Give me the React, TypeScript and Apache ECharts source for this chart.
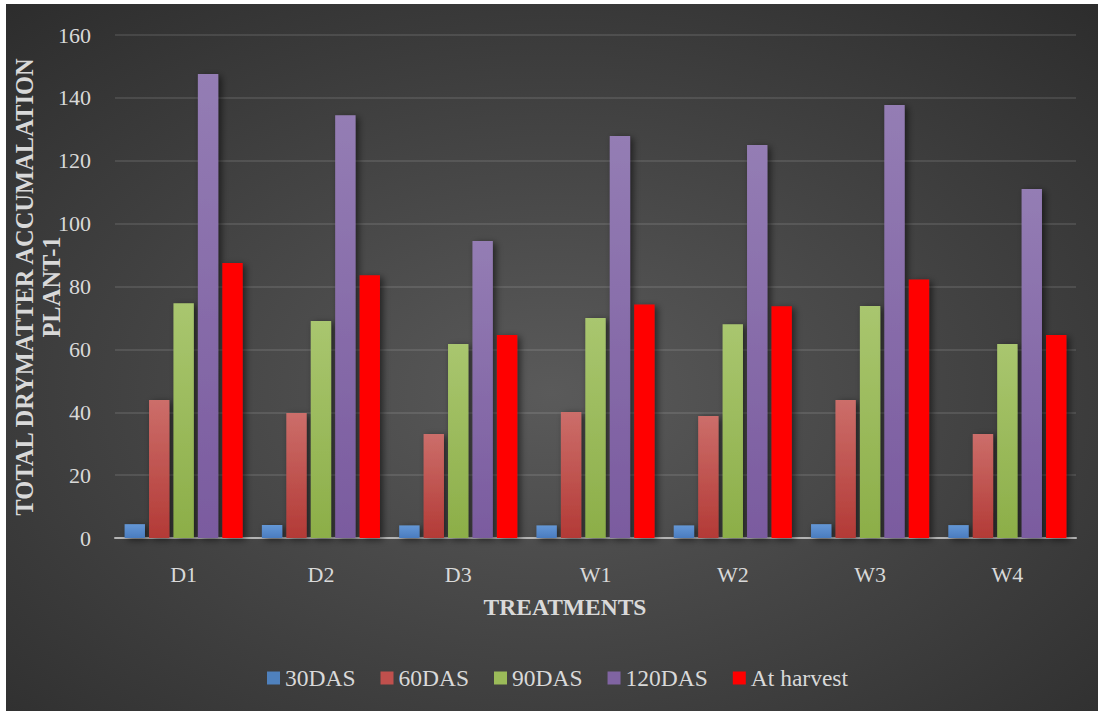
import React, { useEffect, useRef } from "react";
import * as echarts from "echarts";

const categories = ["D1", "D2", "D3", "W1", "W2", "W3", "W4"];
const seriesNames = ["30DAS", "60DAS", "90DAS", "120DAS", "At harvest"];
const das30 = [4.4, 4.1, 4.0, 4.0, 4.0, 4.4, 4.1];
const das60 = [43.9, 39.8, 33.1, 40.1, 38.8, 43.9, 33.1];
const das90 = [74.7, 69.0, 61.7, 70.0, 68.0, 73.8, 61.7];
const das120 = [147.6, 134.5, 94.5, 127.9, 125.0, 137.7, 111.0];
const atHarvest = [87.5, 83.6, 64.6, 74.3, 73.7, 82.2, 64.6];

const yTitleLine1 = "TOTAL DRYMATTER ACCUMALATION";
const yTitleLine2 = "PLANT-1";
const xTitle = "TREATMENTS";

const FONT = '"Liberation Serif", "Times New Roman", serif';

const grad = (top: string, bottom: string) =>
  new echarts.graphic.LinearGradient(0, 0, 0, 1, [
    { offset: 0, color: top },
    { offset: 1, color: bottom },
  ]);

export default function App() {
  const ref = useRef<HTMLDivElement>(null);
  useEffect(() => {
    if (!ref.current) return;
    const chart = echarts.init(ref.current, undefined, { renderer: "svg" });
    const dataSets = [das30, das60, das90, das120, atHarvest];
    const fills = [
      grad("#6497d6", "#4a7cbf"),
      grad("#cc6e6a", "#b33a36"),
      grad("#a9c66f", "#8cae48"),
      grad("#947db4", "#7a5b9f"),
      "#ff0000",
    ];
    const legendColors = ["#4f81bd", "#c0504d", "#9bbb59", "#8064a2", "#ff0000"];
    chart.setOption({
      animation: false,
      backgroundColor: new echarts.graphic.RadialGradient(0.5, 0.55, 0.85, [
        { offset: 0, color: "#5a5a5a" },
        { offset: 1, color: "#262626" },
      ]),
      grid: { left: 109, right: 22, top: 31, bottom: 173, containLabel: false },
      legend: {
        left: 256,
        top: 657,
        itemWidth: 13,
        itemHeight: 13,
        itemGap: 25,
        icon: "rect",
        textStyle: { color: "#d9d9d9", fontSize: 23.5, fontFamily: FONT, lineHeight: 22 },
        data: seriesNames.map((n, i) => ({ name: n, itemStyle: { color: legendColors[i] } })),
      },
      xAxis: {
        type: "category",
        data: categories,
        axisLine: { show: true, lineStyle: { color: "#b4b4b4", width: 2 } },
        axisTick: { show: false },
        axisLabel: { color: "#d9d9d9", fontSize: 22, fontFamily: FONT, margin: 25 },
        splitLine: { show: false },
      },
      yAxis: {
        type: "value",
        min: 0,
        max: 160,
        interval: 20,
        axisLine: { show: false },
        axisTick: { show: false },
        axisLabel: { color: "#d9d9d9", fontSize: 22, fontFamily: FONT, margin: 24 },
        splitLine: { lineStyle: { color: "rgba(255,255,255,0.1)", width: 2 } },
      },
      graphic: [
        {
          type: "text",
          x: 18,
          y: 283,
          rotation: Math.PI / 2,
          style: {
            text: yTitleLine1,
            fill: "#d9d9d9",
            font: `bold 24.5px ${FONT}`,
            textAlign: "center",
            textVerticalAlign: "middle",
          },
        },
        {
          type: "text",
          x: 45,
          y: 283,
          rotation: Math.PI / 2,
          style: {
            text: yTitleLine2,
            fill: "#d9d9d9",
            font: `bold 24.5px ${FONT}`,
            textAlign: "center",
            textVerticalAlign: "middle",
          },
        },
        {
          type: "text",
          x: 559,
          y: 603,
          style: {
            text: xTitle,
            fill: "#d9d9d9",
            font: `bold 23.5px ${FONT}`,
            textAlign: "center",
            textVerticalAlign: "middle",
          },
        },
      ],
      series: dataSets.map((d, i) => ({
        name: seriesNames[i],
        type: "bar",
        data: d,
        barGap: "20%",
        barCategoryGap: "14%",
        itemStyle: {
          color: fills[i],
          shadowColor: "rgba(0,0,0,0.55)",
          shadowBlur: 7,
          shadowOffsetX: 3,
          shadowOffsetY: 2,
        },
      })),
    });
    return () => chart.dispose();
  }, []);
  return (
    <div style={{ position: "fixed", left: 0, top: 0, width: 1098, height: 713, background: "#ffffff" }}>
      <div ref={ref} style={{ position: "absolute", left: 6, top: 4, width: 1092, height: 707 }} />
    </div>
  );
}
